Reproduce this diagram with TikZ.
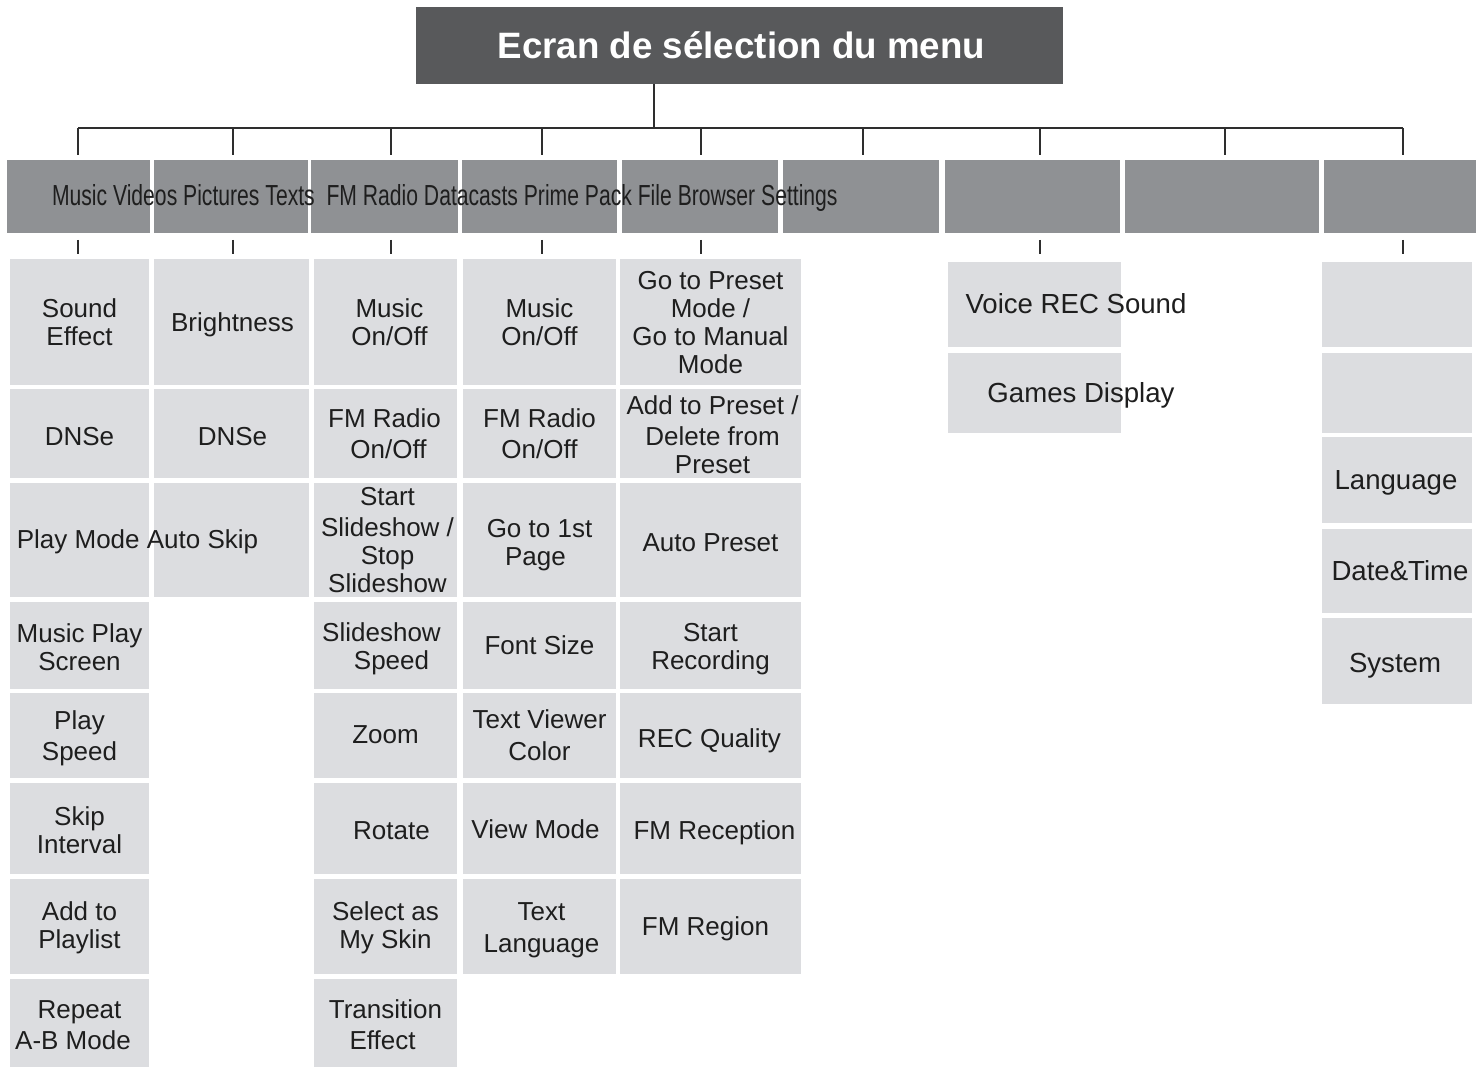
\documentclass[tikz,border=0pt]{standalone}
\usepackage{graphicx}
\usepackage{fontspec}
\setmainfont{Liberation Sans}
\definecolor{titlegray}{HTML}{58595B}
\definecolor{hdrgray}{HTML}{8F9194}
\definecolor{itemgray}{HTML}{DCDDE0}
\definecolor{linegray}{HTML}{2E2E2E}
\definecolor{txt}{HTML}{1E1E1E}
\tikzset{
  boxbase/.style={anchor=north west, inner sep=0pt, outer sep=0pt},
  item/.style={boxbase, fill=itemgray},
  hdr/.style={boxbase, fill=hdrgray},
  conn/.style={draw=linegray, line width=2pt},
  lbl/.style={inner sep=0pt, outer sep=0pt, text=txt, align=center, font=\fontsize{26}{28}\selectfont},
  big/.style={font=\fontsize{27.6}{30}\selectfont}
}
% \mybox[text options]{style}{name}{x1}{y1}{x2}{y2}{text}
\newcommand{\mybox}[8][]{%
  \node[#2, minimum width={#6-#4}, minimum height={#7-#5}] (#3) at (#4,#5) {};
  \node[lbl, #1] (#3t) at (#3.center) {#8};}
\begin{document}
\begin{tikzpicture}[x=1pt,y=-1pt]
\useasboundingbox (0,0) rectangle (1476,1067);
% title
\node[anchor=north west, inner sep=0pt, outer sep=0pt, fill=titlegray, text=white,
  font=\bfseries\fontsize{36.7}{40}\selectfont, minimum width=647, minimum height=77]
  (title) at (416,7) {\hspace*{4pt}Ecran de sélection du menu};
% header boxes
\mybox{hdr}{h1}{7}{160}{150}{233}{}
\mybox{hdr}{h2}{154}{160}{308}{233}{}
\mybox{hdr}{h3}{311}{160}{458}{233}{}
\mybox{hdr}{h4}{462}{160}{617}{233}{}
\mybox{hdr}{h5}{622}{160}{778}{233}{}
\mybox{hdr}{h6}{783}{160}{939}{233}{}
\mybox{hdr}{h7}{945}{160}{1120}{233}{}
\mybox{hdr}{h8}{1125}{160}{1319}{233}{}
\mybox{hdr}{h9}{1324}{160}{1476}{233}{}
\node[lbl, anchor=base west] (htxt) at (52,206)
  {\scalebox{0.729}[1]{\fontsize{29}{30}\selectfont Music Videos Pictures Texts\ \ FM Radio Datacasts Prime Pack File Browser Settings}};
% column 1
\mybox{item}{c1r1}{10}{259}{149}{385}{Sound\\Effect}
\mybox[yshift=-3pt]{item}{c1r2}{10}{389}{149}{478}{DNSe}
\mybox{item}{c1r3}{10}{483}{149}{597}{}
\mybox[yshift=-2pt]{item}{c1r4}{10}{602}{149}{689}{Music Play\\Screen}
\mybox[yshift=-3pt]{item}{c1r5}{10}{693}{149}{778}{Play\\[3pt]Speed}
\mybox[yshift=-2pt]{item}{c1r6}{10}{783}{149}{874}{Skip\\Interval}
\mybox[yshift=-1pt]{item}{c1r7}{10}{879}{149}{974}{Add to\\Playlist}
\mybox[yshift=-2pt]{item}{c1r8}{10}{979}{149}{1067}{Repeat\\[3pt]A-B Mode\hspace*{13pt}}
% column 2
\mybox[yshift=-3pt,xshift=1pt]{item}{c2r1}{154}{259}{309}{385}{Brightness}
\mybox[yshift=-3pt,xshift=1pt]{item}{c2r2}{154}{389}{309}{478}{DNSe}
\mybox{item}{c2r3}{154}{483}{309}{597}{}
\node[lbl, yshift=-4pt] (pmas) at (137.5,538) {Play Mode Auto Skip};
% column 3
\mybox[xshift=4pt]{item}{c3r1}{314}{259}{457}{385}{Music\\On/Off}
\mybox[xshift=3pt]{item}{c3r2}{314}{389}{457}{478}{FM Radio\hspace*{8pt}\\[3pt]On/Off}
\mybox[xshift=2pt]{item}{c3r3}{314}{483}{457}{597}{Start\\[3pt]Slideshow /\\Stop\\Slideshow}
\mybox[yshift=-3pt]{item}{c3r4}{314}{602}{457}{689}{Slideshow\hspace*{8pt}\\\hspace*{12pt}Speed}
\mybox[yshift=1pt]{item}{c3r5}{314}{693}{457}{778}{Zoom}
\mybox[yshift=-2pt]{item}{c3r6}{314}{783}{457}{874}{\hspace*{12pt}Rotate}
\mybox[yshift=-1pt]{item}{c3r7}{314}{879}{457}{974}{Select as\\My Skin}
\mybox[yshift=-2pt]{item}{c3r8}{314}{979}{457}{1067}{Transition\\[3pt]Effect\hspace*{6pt}}
% column 4
\mybox{item}{c4r1}{463}{259}{616}{385}{Music\\On/Off}
\mybox{item}{c4r2}{463}{389}{616}{478}{FM Radio\\[3pt]On/Off}
\mybox[yshift=-5pt]{item}{c4r3}{463}{483}{616}{597}{Go to 1st\\Page\hspace*{8pt}}
\mybox{item}{c4r4}{463}{602}{616}{689}{Font Size}
\mybox{item}{c4r5}{463}{693}{616}{778}{Text Viewer\\[4pt]Color}
\mybox[yshift=-1pt,xshift=-4pt]{item}{c4r6}{463}{783}{616}{874}{View Mode}
\mybox[yshift=-4pt,xshift=2pt]{item}{c4r7}{463}{879}{616}{974}{Text\\[4pt]Language}
% column 5
\mybox[yshift=-1pt]{item}{c5r1}{620}{259}{801}{385}{Go to Preset\\Mode /\\Go to Manual\\Mode}
\mybox[yshift=-1pt,xshift=2pt]{item}{c5r2}{620}{389}{801}{478}{Add to Preset /\\[3pt]Delete from\\Preset}
\mybox[yshift=-3pt]{item}{c5r3}{620}{483}{801}{597}{Auto Preset}
\mybox[yshift=-4pt]{item}{c5r4}{620}{602}{801}{689}{Start\\Recording}
\mybox[yshift=-5pt,xshift=-1pt]{item}{c5r5}{620}{693}{801}{778}{REC Quality}
\mybox[yshift=-4pt]{item}{c5r6}{620}{783}{801}{874}{\hspace*{8pt}FM Reception}
\mybox[yshift=-2pt,xshift=-5pt]{item}{c5r7}{620}{879}{801}{974}{FM Region}
% column 7
\mybox{item}{c7r1}{948}{262}{1121}{347}{}
\mybox{item}{c7r2}{948}{353}{1121}{433}{}
\node[lbl, big] (vrs) at (1076,304) {Voice REC Sound};
\node[lbl, big] (gd) at (1081,395) {Games Display};
% column 9
\mybox{item}{c9r1}{1322}{262}{1472}{347}{}
\mybox{item}{c9r2}{1322}{353}{1472}{433}{}
\mybox[big, yshift=-3pt,xshift=-1pt]{item}{c9r3}{1322}{437}{1472}{523}{Language}
\mybox[big, yshift=0pt,xshift=3pt]{item}{c9r4}{1322}{529}{1472}{613}{Date\&Time}
\mybox[big, yshift=-5pt,xshift=-2pt]{item}{c9r5}{1322}{618}{1472}{704}{System}
% connectors
\coordinate (t0) at (654,128);
\coordinate (d1) at (78,128);
\coordinate (d2) at (233,128);
\coordinate (d3) at (391,128);
\coordinate (d4) at (542,128);
\coordinate (d5) at (701,128);
\coordinate (d6) at (863,128);
\coordinate (d7) at (1040,128);
\coordinate (d8) at (1225,128);
\coordinate (d9) at (1403,128);
\draw[conn] (title.south -| t0) -- (t0);
\draw[conn] (d1) -- (d9);
\foreach \i in {1,...,9}{
  \draw[conn, shorten >=5pt] (d\i) -- (h\i.north -| d\i);
}
\foreach \i in {1,2,3,4,5}{
  \draw[conn, shorten <=7pt, shorten >=5pt] (h\i.south -| d\i) -- (c\i r1.north -| d\i);
}
\draw[conn, shorten <=7pt, shorten >=8pt] (h7.south -| d7) -- (c7r1.north -| d7);
\draw[conn, shorten <=7pt, shorten >=8pt] (h9.south -| d9) -- (c9r1.north -| d9);
\end{tikzpicture}
\end{document}
